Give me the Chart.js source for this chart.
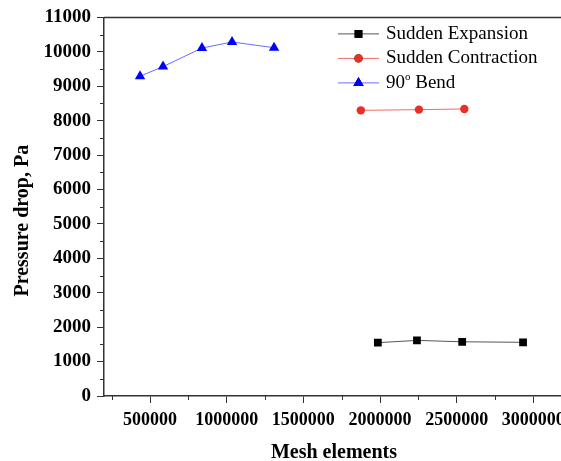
<!DOCTYPE html>
<html>
<head>
<meta charset="utf-8">
<script src="https://cdn.jsdelivr.net/npm/chart.js@4/dist/chart.umd.min.js"></script>
<style>
  html, body { margin: 0; padding: 0; background: #fff; overflow: hidden; }
  #wrap { width: 561px; height: 461px; overflow: hidden; }
</style>
</head>
<body>
<div id="wrap"><canvas id="meshChart" width="580" height="469"></canvas></div>
<script>
// mesh independence data
const meshExpansion = [1986000, 2241000, 2536000, 2933000];
const dropExpansion = [1550, 1615, 1575, 1560];
const meshContraction = [1875000, 2254000, 2550000];
const dropContraction = [8300, 8320, 8340];
const meshBend = [435000, 585000, 839000, 1035000, 1309000];
const dropBend = [9290, 9570, 10110, 10285, 10120];

const xTicks = [500000, 1000000, 1500000, 2000000, 2500000, 3000000];
const xMinor = [250000, 750000, 1250000, 1750000, 2250000, 2750000];
const yTicks = [0, 1000, 2000, 3000, 4000, 5000, 6000, 7000, 8000, 9000, 10000, 11000];
const yMinor = [500, 1500, 2500, 3500, 4500, 5500, 6500, 7500, 8500, 9500, 10500];
const yTitle = 'Pressure drop, Pa';

const serif = "'Liberation Serif', 'DejaVu Serif', serif";
const titleFont = { family: serif, size: 20, weight: 'bold' };

const toPoints = (xs, ys) => xs.map((v, i) => ({ x: v, y: ys[i] }));

// top border, minor ticks, y title and the Origin-style legend
const framePlugin = {
    id: 'frame',
    afterDraw(chart) {
        const { ctx, chartArea: a, scales: { x, y } } = chart;
        ctx.save();
        ctx.strokeStyle = '#333';
        ctx.lineWidth = 1.5;
        ctx.beginPath();
        ctx.moveTo(a.left, a.top);
        ctx.lineTo(a.right, a.top);
        ctx.stroke();

        ctx.lineWidth = 1;
        ctx.beginPath();
        xMinor.forEach(v => {
            const px = Math.round(x.getPixelForValue(v)) + 0.5;
            ctx.moveTo(px, a.bottom);
            ctx.lineTo(px, a.bottom + 4);
        });
        yMinor.forEach(v => {
            const py = Math.round(y.getPixelForValue(v)) + 0.5;
            ctx.moveTo(a.left, py);
            ctx.lineTo(a.left - 4, py);
        });
        ctx.stroke();

        // y axis title, sits a bit below the middle like the original
        ctx.save();
        ctx.translate(23, (a.top + a.bottom) / 2 + 14);
        ctx.rotate(-Math.PI / 2);
        ctx.fillStyle = '#000';
        ctx.font = "bold 20px " + serif;
        ctx.textAlign = 'center';
        ctx.textBaseline = 'middle';
        ctx.fillText(yTitle, 0, 0);
        ctx.restore();

        // legend
        const lx = a.left + 234;
        let ly = a.top + 16.5;
        chart.data.datasets.forEach(ds => {
            ctx.strokeStyle = ds.borderColor;
            ctx.lineWidth = 1;
            ctx.beginPath();
            ctx.moveTo(lx, ly);
            ctx.lineTo(lx + 41, ly);
            ctx.stroke();
            Chart.helpers.drawPoint(ctx, {
                pointStyle: ds.pointStyle,
                radius: ds.pointRadius,
                borderWidth: 0,
                rotation: 0
            }, lx + 20.5, ly);
            ctx.fillStyle = ds.pointBackgroundColor;
            ctx.fill();

            ctx.fillStyle = '#000';
            ctx.font = "19px " + serif;
            ctx.textBaseline = 'middle';
            ctx.textAlign = 'left';
            let tx = lx + 48;
            if (ds.legendSup) {
                const [pre, post] = ds.label.split('°');
                ctx.fillText(pre, tx, ly);
                tx += ctx.measureText(pre).width;
                ctx.font = "11px " + serif;
                ctx.fillText('o', tx, ly - 6);
                tx += ctx.measureText('o').width;
                ctx.font = "19px " + serif;
                ctx.fillText(post, tx, ly);
            } else {
                ctx.fillText(ds.label, tx, ly);
            }
            ly += 24.5;
        });
        ctx.restore();
    }
};

new Chart(document.getElementById('meshChart'), {
    type: 'scatter',
    data: {
        datasets: [{
            label: 'Sudden Expansion',
            data: toPoints(meshExpansion, dropExpansion),
            showLine: true,
            borderColor: '#555',
            borderWidth: 1,
            pointStyle: 'rect',
            pointRadius: 5.5,
            pointBackgroundColor: '#000',
            pointBorderWidth: 0
        }, {
            label: 'Sudden Contraction',
            data: toPoints(meshContraction, dropContraction),
            showLine: true,
            borderColor: '#f46a62',
            borderWidth: 1,
            pointStyle: 'circle',
            pointRadius: 4.2,
            pointBackgroundColor: '#ea3026',
            pointBorderWidth: 0
        }, {
            label: '90° Bend',
            legendSup: true,
            data: toPoints(meshBend, dropBend),
            showLine: true,
            borderColor: '#6b6bff',
            borderWidth: 1,
            pointStyle: 'triangle',
            pointRadius: 6,
            pointBackgroundColor: '#0000ff',
            pointBorderWidth: 0
        }]
    },
    options: {
        responsive: false,
        animation: false,
        layout: { padding: { top: 17, right: 16, bottom: 0, left: 0 } },
        plugins: {
            legend: { display: false },
            tooltip: { enabled: false }
        },
        scales: {
            x: {
                type: 'linear',
                min: 200000,
                max: 3200000,
                afterBuildTicks: s => { s.ticks = xTicks.map(v => ({ value: v })); },
                afterFit: s => { s.height = 73; },
                grid: { drawOnChartArea: false, tickLength: 7, color: '#333', tickWidth: 1 },
                border: { color: '#333', width: 1.5 },
                ticks: { font: { family: serif, size: 18, weight: 'bold' }, color: '#000', padding: 7, maxRotation: 0, autoSkip: false, callback: v => String(v) },
                title: { display: true, text: 'Mesh elements', font: titleFont, color: '#000', padding: { top: 4, bottom: 4 } }
            },
            y: {
                type: 'linear',
                min: 0,
                max: 11000,
                afterBuildTicks: s => { s.ticks = yTicks.map(v => ({ value: v })); },
                afterFit: s => { s.width = 104; },
                grid: { drawOnChartArea: false, tickLength: 7, color: '#333', tickWidth: 1 },
                border: { color: '#333', width: 1.5 },
                ticks: { font: { family: serif, size: 19, weight: 'bold' }, color: '#000', padding: 6, autoSkip: false, callback: v => String(v) }
            }
        }
    },
    plugins: [framePlugin]
});
</script>
</body>
</html>
